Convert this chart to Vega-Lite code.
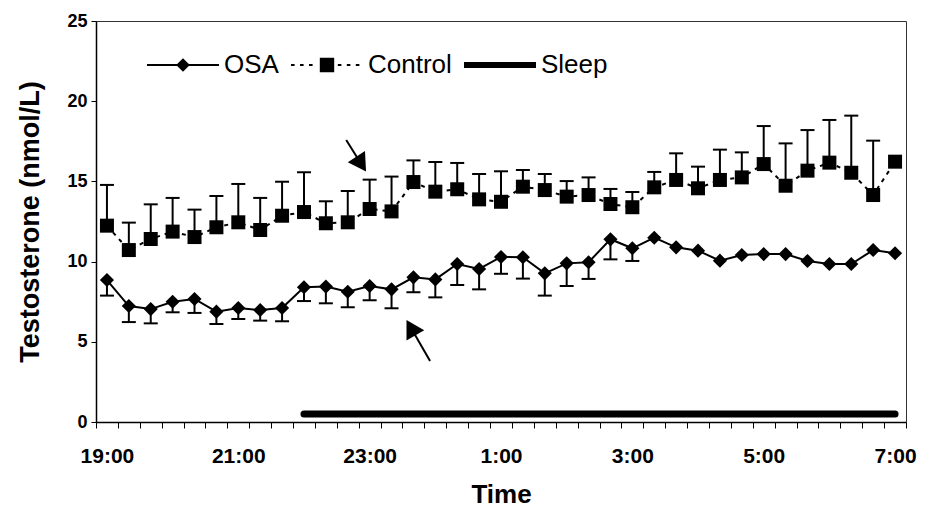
{
  "$schema": "https://vega.github.io/schema/vega-lite/v6.json",
  "width": 810,
  "height": 401,
  "autosize": "none",
  "padding": {"left": 96, "top": 21, "right": 23, "bottom": 88},
  "background": "white",
  "config": {
    "view": {"stroke": "#333", "strokeWidth": 1},
    "axis": {
      "domainColor": "black", "domainWidth": 1.5, "tickColor": "black", "tickWidth": 1,
      "grid": false, "labelColor": "black", "titleColor": "black",
      "labelFont": "Liberation Sans", "titleFont": "Liberation Sans",
      "labelFontWeight": "bold", "titleFontWeight": "bold"
    }
  },
  "datasets": {
    "series": [
      {"time": 0, "series": "OSA", "mean": 8.85, "bar": 7.88},
      {"time": 20, "series": "OSA", "mean": 7.23, "bar": 6.23},
      {"time": 40, "series": "OSA", "mean": 7.04, "bar": 6.15},
      {"time": 60, "series": "OSA", "mean": 7.5, "bar": 6.84},
      {"time": 80, "series": "OSA", "mean": 7.67, "bar": 6.8},
      {"time": 100, "series": "OSA", "mean": 6.88, "bar": 6.11},
      {"time": 120, "series": "OSA", "mean": 7.11, "bar": 6.42},
      {"time": 140, "series": "OSA", "mean": 6.98, "bar": 6.32},
      {"time": 160, "series": "OSA", "mean": 7.11, "bar": 6.28},
      {"time": 180, "series": "OSA", "mean": 8.4, "bar": 7.54},
      {"time": 200, "series": "OSA", "mean": 8.44, "bar": 7.4},
      {"time": 220, "series": "OSA", "mean": 8.12, "bar": 7.15},
      {"time": 240, "series": "OSA", "mean": 8.48, "bar": 7.59},
      {"time": 260, "series": "OSA", "mean": 8.27, "bar": 7.09},
      {"time": 280, "series": "OSA", "mean": 9.02, "bar": 8.09},
      {"time": 300, "series": "OSA", "mean": 8.89, "bar": 7.77},
      {"time": 320, "series": "OSA", "mean": 9.85, "bar": 8.54},
      {"time": 340, "series": "OSA", "mean": 9.54, "bar": 8.27},
      {"time": 360, "series": "OSA", "mean": 10.29, "bar": 9.24},
      {"time": 380, "series": "OSA", "mean": 10.27, "bar": 8.94},
      {"time": 400, "series": "OSA", "mean": 9.27, "bar": 7.88},
      {"time": 420, "series": "OSA", "mean": 9.89, "bar": 8.48},
      {"time": 440, "series": "OSA", "mean": 9.96, "bar": 8.92},
      {"time": 460, "series": "OSA", "mean": 11.39, "bar": 10.14},
      {"time": 480, "series": "OSA", "mean": 10.83, "bar": 10.04},
      {"time": 500, "series": "OSA", "mean": 11.49, "bar": null},
      {"time": 520, "series": "OSA", "mean": 10.89, "bar": null},
      {"time": 540, "series": "OSA", "mean": 10.68, "bar": null},
      {"time": 560, "series": "OSA", "mean": 10.06, "bar": null},
      {"time": 580, "series": "OSA", "mean": 10.41, "bar": null},
      {"time": 600, "series": "OSA", "mean": 10.47, "bar": null},
      {"time": 620, "series": "OSA", "mean": 10.47, "bar": null},
      {"time": 640, "series": "OSA", "mean": 10.04, "bar": null},
      {"time": 660, "series": "OSA", "mean": 9.85, "bar": null},
      {"time": 680, "series": "OSA", "mean": 9.85, "bar": null},
      {"time": 700, "series": "OSA", "mean": 10.72, "bar": null},
      {"time": 720, "series": "OSA", "mean": 10.52, "bar": null},
      {"time": 0, "series": "Control", "mean": 12.24, "bar": 14.78},
      {"time": 20, "series": "Control", "mean": 10.72, "bar": 12.43},
      {"time": 40, "series": "Control", "mean": 11.41, "bar": 13.57},
      {"time": 60, "series": "Control", "mean": 11.87, "bar": 13.97},
      {"time": 80, "series": "Control", "mean": 11.53, "bar": 13.24},
      {"time": 100, "series": "Control", "mean": 12.14, "bar": 14.09},
      {"time": 120, "series": "Control", "mean": 12.45, "bar": 14.84},
      {"time": 140, "series": "Control", "mean": 11.97, "bar": 13.97},
      {"time": 160, "series": "Control", "mean": 12.86, "bar": 14.98},
      {"time": 180, "series": "Control", "mean": 13.09, "bar": 15.57},
      {"time": 200, "series": "Control", "mean": 12.39, "bar": 13.76},
      {"time": 220, "series": "Control", "mean": 12.45, "bar": 14.4},
      {"time": 240, "series": "Control", "mean": 13.28, "bar": 15.11},
      {"time": 260, "series": "Control", "mean": 13.13, "bar": 15.3},
      {"time": 280, "series": "Control", "mean": 14.96, "bar": 16.31},
      {"time": 300, "series": "Control", "mean": 14.36, "bar": 16.21},
      {"time": 320, "series": "Control", "mean": 14.51, "bar": 16.15},
      {"time": 340, "series": "Control", "mean": 13.88, "bar": 15.46},
      {"time": 360, "series": "Control", "mean": 13.73, "bar": 15.63},
      {"time": 380, "series": "Control", "mean": 14.67, "bar": 15.71},
      {"time": 400, "series": "Control", "mean": 14.46, "bar": 15.46},
      {"time": 420, "series": "Control", "mean": 14.05, "bar": 15.02},
      {"time": 440, "series": "Control", "mean": 14.15, "bar": 15.25},
      {"time": 460, "series": "Control", "mean": 13.59, "bar": 14.53},
      {"time": 480, "series": "Control", "mean": 13.39, "bar": 14.34},
      {"time": 500, "series": "Control", "mean": 14.63, "bar": 15.59},
      {"time": 520, "series": "Control", "mean": 15.09, "bar": 16.75},
      {"time": 540, "series": "Control", "mean": 14.57, "bar": 15.92},
      {"time": 560, "series": "Control", "mean": 15.09, "bar": 16.98},
      {"time": 580, "series": "Control", "mean": 15.25, "bar": 16.81},
      {"time": 600, "series": "Control", "mean": 16.08, "bar": 18.45},
      {"time": 620, "series": "Control", "mean": 14.73, "bar": 17.37},
      {"time": 640, "series": "Control", "mean": 15.67, "bar": 18.2},
      {"time": 660, "series": "Control", "mean": 16.17, "bar": 18.83},
      {"time": 680, "series": "Control", "mean": 15.54, "bar": 19.1},
      {"time": 700, "series": "Control", "mean": 14.15, "bar": 17.54},
      {"time": 720, "series": "Control", "mean": 16.23, "bar": null}
    ],
    "sleep": [{"label": "Sleep", "start": 180, "end": 720, "level": 0.5}],
    "arrows": [
      {"id": "control", "tx": 218.6, "ty": 17.58, "hx": 232.3, "hy": 16.08},
      {"id": "osa", "tx": 295.2, "ty": 3.8, "hx": 277.7, "hy": 5.88}
    ],
    "legend": [{"series": "OSA"}, {"series": "Control"}, {"series": "Sleep"}]
  },
  "layer": [
    {
      "data": {"name": "series"},
      "transform": [{"filter": "datum.series == 'OSA'"}],
      "mark": {"type": "line", "color": "black", "strokeWidth": 2},
      "encoding": {
        "x": {
          "field": "time", "type": "quantitative",
          "scale": {"domain": [-10, 730], "nice": false, "zero": false},
          "axis": {
            "title": "Time",
            "values": [-10,0,10,20,30,40,50,60,70,80,90,100,110,120,130,140,150,160,170,180,190,200,210,220,230,240,250,260,270,280,290,300,310,320,330,340,350,360,370,380,390,400,410,420,430,440,450,460,470,480,490,500,510,520,530,540,550,560,570,580,590,600,610,620,630,640,650,660,670,680,690,700,710,720,730],
            "tickCount": 500,
            "tickSize": 6,
            "tickOpacity": {"condition": {"test": "(datum.value + 10) % 20 == 0", "value": 1}, "value": 0},
            "labelExpr": "datum.value >= 0 && datum.value % 120 == 0 ? ((floor(datum.value / 60) + 19) % 24) + ':00' : ''",
            "labelFontSize": 21, "labelPadding": 17,
            "labelOverlap": false, "labelFlush": false, "labelBound": false,
            "titleFontSize": 26, "titlePadding": 15
          }
        },
        "y": {
          "field": "mean", "type": "quantitative",
          "scale": {"domain": [0, 25], "nice": false},
          "axis": {
            "title": "Testosterone (nmol/L)",
            "values": [0, 5, 10, 15, 20, 25],
            "tickSize": 5, "labelFontSize": 18, "labelPadding": 4,
            "titleFontSize": 27, "titlePadding": 22
          }
        }
      }
    },
    {
      "data": {"name": "series"},
      "transform": [{"filter": "datum.series == 'Control'"}],
      "mark": {"type": "line", "color": "black", "strokeWidth": 2, "strokeDash": [4, 5]},
      "encoding": {
        "x": {"field": "time", "type": "quantitative"},
        "y": {"field": "mean", "type": "quantitative"}
      }
    },
    {
      "data": {"name": "sleep"},
      "mark": {"type": "rule", "color": "black", "strokeWidth": 7, "strokeCap": "round"},
      "encoding": {
        "x": {"field": "start", "type": "quantitative"},
        "x2": {"field": "end"},
        "y": {"field": "level", "type": "quantitative"}
      }
    },
    {
      "data": {"name": "series"},
      "transform": [{"filter": "datum.bar != null"}],
      "mark": {"type": "rule", "color": "black", "strokeWidth": 2},
      "encoding": {
        "x": {"field": "time", "type": "quantitative"},
        "y": {"field": "mean", "type": "quantitative"},
        "y2": {"field": "bar"}
      }
    },
    {
      "data": {"name": "series"},
      "transform": [{"filter": "datum.bar != null"}],
      "mark": {"type": "tick", "orient": "horizontal", "color": "black", "size": 14, "thickness": 2, "opacity": 1},
      "encoding": {
        "x": {"field": "time", "type": "quantitative"},
        "y": {"field": "bar", "type": "quantitative"}
      }
    },
    {
      "data": {"name": "series"},
      "transform": [{"filter": "datum.series == 'OSA'"}],
      "mark": {"type": "point", "shape": "diamond", "filled": true, "color": "black", "size": 200, "opacity": 1},
      "encoding": {
        "x": {"field": "time", "type": "quantitative"},
        "y": {"field": "mean", "type": "quantitative"}
      }
    },
    {
      "data": {"name": "series"},
      "transform": [{"filter": "datum.series == 'Control'"}],
      "mark": {"type": "point", "shape": "square", "filled": true, "color": "black", "size": 196, "opacity": 1},
      "encoding": {
        "x": {"field": "time", "type": "quantitative"},
        "y": {"field": "mean", "type": "quantitative"}
      }
    },
    {
      "data": {"name": "arrows"},
      "mark": {"type": "rule", "color": "black", "strokeWidth": 2},
      "encoding": {
        "x": {"field": "tx", "type": "quantitative"},
        "y": {"field": "ty", "type": "quantitative"},
        "x2": {"field": "hx"},
        "y2": {"field": "hy"}
      }
    },
    {
      "data": {"name": "arrows"},
      "transform": [{"filter": "datum.id == 'control'"}],
      "mark": {"type": "point", "shape": "triangle-up", "filled": true, "color": "black", "size": 420, "angle": 147, "opacity": 1},
      "encoding": {
        "x": {"field": "hx", "type": "quantitative"},
        "y": {"field": "hy", "type": "quantitative"}
      }
    },
    {
      "data": {"name": "arrows"},
      "transform": [{"filter": "datum.id == 'osa'"}],
      "mark": {"type": "point", "shape": "triangle-up", "filled": true, "color": "black", "size": 420, "angle": 330, "opacity": 1},
      "encoding": {
        "x": {"field": "hx", "type": "quantitative"},
        "y": {"field": "hy", "type": "quantitative"}
      }
    },
    {
      "data": {"name": "legend"},
      "mark": {"type": "point", "filled": true, "color": "black", "opacity": 0},
      "encoding": {
        "shape": {
          "field": "series", "type": "nominal",
          "scale": {
            "domain": ["OSA", "Control", "Sleep"],
            "range": [
              "M-1,-0.028H1V0.028H-1ZM0,-0.19L0.19,0L0,0.19L-0.19,0Z",
              "M-1,-0.028H-0.9V0.028H-1ZM-0.75,-0.028H-0.65V0.028H-0.75ZM-0.5,-0.028H-0.4V0.028H-0.5ZM-0.2,-0.2H0.2V0.2H-0.2ZM0.3,-0.028H0.4V0.028H0.3ZM0.55,-0.028H0.65V0.028H0.55ZM0.8,-0.028H0.9V0.028H0.8Z",
              "M-1,-0.085H1V0.085H-1Z"
            ]
          },
          "legend": {
            "orient": "none", "legendX": 51, "legendY": 8,
            "direction": "horizontal", "title": null,
            "symbolSize": 5184, "symbolStrokeWidth": 0,
            "symbolFillColor": "black", "symbolStrokeColor": "black", "symbolOpacity": 1,
            "labelFont": "Liberation Sans", "labelFontSize": 26, "labelColor": "black",
            "labelOffset": 5, "columnPadding": 12, "padding": 0, "labelLimit": 0,
            "encode": {
              "symbols": {
                "update": {
                  "fill": {"value": "black"},
                  "opacity": {"value": 1}
                }
              }
            }
          }
        }
      }
    }
  ]
}
